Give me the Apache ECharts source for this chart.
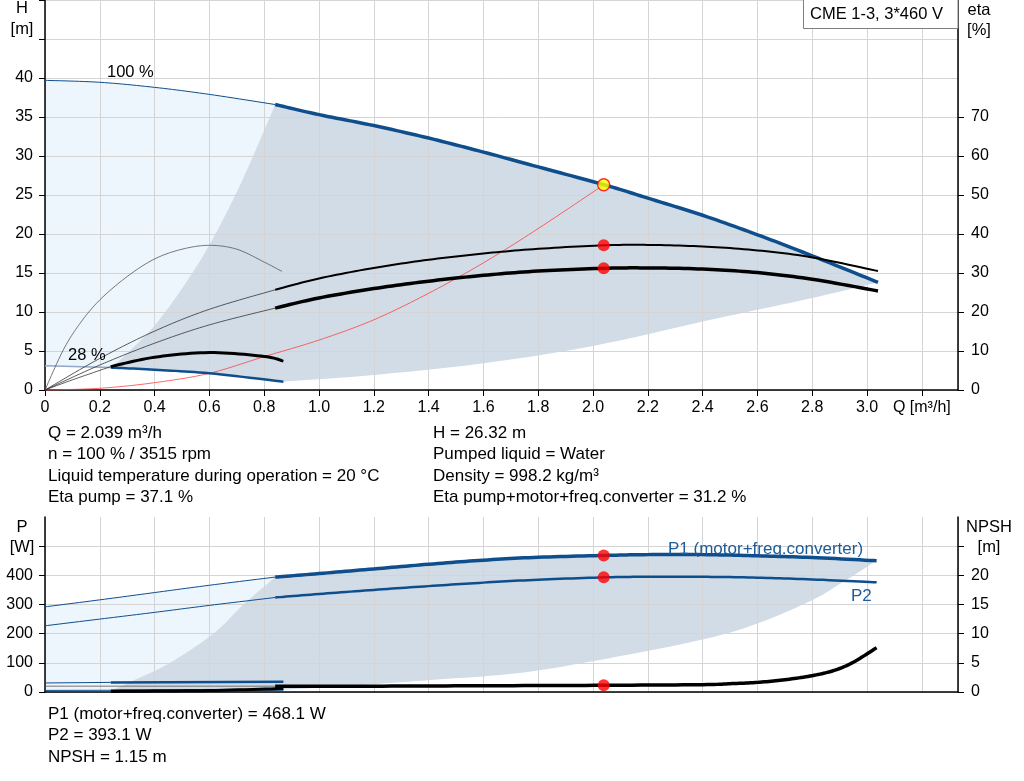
<!DOCTYPE html>
<html>
<head>
<meta charset="utf-8">
<script src="https://cdn.jsdelivr.net/npm/echarts@6/dist/echarts.min.js"></script>
<style>html,body{margin:0;padding:0;background:#fff;}#c{width:1024px;height:781px;}</style>
</head>
<body>
<div id="c"></div>
<script>
// ---------- data ----------
// Top chart: head H [m] vs flow Q [m3/h]
const h100Thin  = [[0,39.7],[0.2,39.45],[0.4,38.8],[0.6,37.9],[0.84,36.6]];
const h100Thick = [[0.84,36.6],[1.0,35.3],[1.2,33.9],[1.4,32.3],[1.6,30.5],[1.8,28.6],[2.04,26.32],[2.2,24.6],[2.4,22.4],[2.6,19.9],[2.8,17.2],[3.04,13.8]];
const h28Thin   = [[0,3.12],[0.24,2.88]];
const h28Thick  = [[0.24,2.88],[0.4,2.6],[0.6,2.14],[0.87,1.07]];
// efficiency curves [%]
const etaPumpThin   = [[0,0],[0.2,8.1],[0.4,15.1],[0.6,20.7],[0.84,25.7]];
const etaPumpThick  = [[0.84,25.7],[1.0,28.6],[1.2,31.3],[1.4,33.4],[1.6,35.0],[1.8,36.2],[2.04,37.1],[2.2,37.2],[2.4,36.8],[2.6,35.8],[2.8,34.0],[3.04,30.5]];
const etaTotThin    = [[0,0],[0.2,6.4],[0.4,12.0],[0.6,16.7],[0.84,21.0]];
const etaTotThick   = [[0.84,21.0],[1.0,23.6],[1.2,26.0],[1.4,27.9],[1.6,29.4],[1.8,30.5],[2.04,31.2],[2.2,31.3],[2.4,31.0],[2.6,30.1],[2.8,28.4],[3.04,25.4]];
const eta28Pump     = [[0,0],[0.067,10.3],[0.128,17.1],[0.2,23.1],[0.3,29.1],[0.4,33.6],[0.5,36.1],[0.6,37.1],[0.7,36.1],[0.8,32.8],[0.865,30.4]];
const eta28TotThin  = [[0,0],[0.1,2.6],[0.24,6.0]];
const eta28TotThick = [[0.24,6.0],[0.4,8.4],[0.6,9.6],[0.8,8.6],[0.87,7.4]];
const systemCurve   = [[0,0],[0.2,0.22],[0.4,0.94],[0.6,2.14],[0.8,4.28],[1.0,6.4],[1.2,9.0],[1.4,12.4],[1.6,16.3],[1.8,20.7],[2.04,26.32]];
// operating area boundaries (top)
const areaLeftTop  = [[0.24,2.88],[0.3,4.7],[0.41,8.7],[0.53,14.6],[0.62,19.9],[0.72,26.9],[0.84,36.6]];
const areaLowerTop = [[0.87,1.07],[1.2,1.93],[1.6,3.42],[2.0,5.65],[2.43,9.0],[2.8,11.8],[3.04,13.8]];
// duty point
const dutyQ = 2.039, dutyH = 26.32, dutyEtaPump = 37.1, dutyEtaTot = 31.2;
// Bottom chart: power P [W] and NPSH [m]
const p1Thin  = [[0,292],[0.2,316],[0.4,341],[0.6,366],[0.84,394]];
const p1Thick = [[0.84,394],[1.0,406],[1.2,422],[1.4,438],[1.6,452],[1.8,462],[2.04,468.1],[2.2,471],[2.4,471],[2.6,467],[2.8,461],[3.035,450]];
const p2Thin  = [[0,227],[0.2,250],[0.4,273],[0.6,297],[0.84,324]];
const p2Thick = [[0.84,324],[1.0,336],[1.2,350],[1.4,363],[1.6,375],[1.8,385],[2.04,393.1],[2.2,395],[2.4,395],[2.6,392],[2.8,386],[3.035,376]];
const p1_28Thin  = [[0,31],[0.24,33]];
const p1_28Thick = [[0.24,33],[0.87,35]];
const p2_28Thin  = [[0,5.5],[0.24,6]];
const p2_28Thick = [[0.24,6],[0.87,8]];
const npshThin   = [[0,1.0],[0.84,1.0]];
const npshThick  = [[0.84,0.97],[1.2,1.0],[1.6,1.07],[2.04,1.15],[2.4,1.26],[2.5,1.42],[2.6,1.65],[2.7,2.1],[2.8,2.8],[2.88,3.7],[2.95,5.1],[3.035,7.6]];
const npsh28     = [[0.24,0.1],[0.6,0.25],[0.87,0.6]];
const areaLeftBot  = [[0.24,5],[0.347,50],[0.456,100],[0.614,200],[0.724,300],[0.84,394]];
const areaLowerBot = [[0.87,8],[1.17,25],[1.42,42],[1.73,65],[2.03,111],[2.4,180],[2.6,235],[2.8,315],[2.9,370],[3.035,450]];
const dutyP1 = 468.1, dutyP2 = 393.1, dutyNpsh = 1.15;

const infoLeft  = ['Q = 2.039 m³/h','n = 100 % / 3515 rpm','Liquid temperature during operation = 20 °C','Eta pump = 37.1 %'];
const infoRight = ['H = 26.32 m','Pumped liquid = Water','Density = 998.2 kg/m³','Eta pump+motor+freq.converter = 31.2 %'];
const infoBottom = ['P1 (motor+freq.converter) = 468.1 W','P2 = 393.1 W','NPSH = 1.15 m'];

// ---------- chart ----------
const FONT = 'Liberation Sans, Arial, sans-serif';
const BLUE = '#0f4e8c';
const LIGHT = '#edf5fd';
const GREY = '#d1dce7';
const GRID = '#d4d4d4';
const XMAX = 3.332;

function rev(a){ return a.slice().reverse(); }
// Catmull-Rom through pixel points (rendering only)
function spline(p){
  if (p.length < 3) return p.slice();
  const out = [], n = 12;
  for (let i = 0; i < p.length - 1; i++){
    const p0 = p[Math.max(i-1,0)], p1 = p[i], p2 = p[i+1], p3 = p[Math.min(i+2,p.length-1)];
    for (let k = 0; k < n; k++){
      const t = k/n, t2 = t*t, t3 = t2*t;
      out.push([0,1].map(function(j){
        return 0.5*((2*p1[j]) + (-p0[j]+p2[j])*t + (2*p0[j]-5*p1[j]+4*p2[j]-p3[j])*t2 + (-p0[j]+3*p1[j]-3*p2[j]+p3[j])*t3);
      }));
    }
  }
  out.push(p[p.length-1]);
  return out;
}
function poly(segments, color, xi, yi){
  const all = [].concat.apply([], segments);
  return {type:'custom', xAxisIndex:xi, yAxisIndex:yi, z:-1, silent:true, data:all, encode:{x:0,y:1},
    renderItem:function(params, api){
      if (params.dataIndex !== 0) return null;
      let pts = [];
      segments.forEach(function(seg){ pts = pts.concat(spline(seg.map(function(d){ return api.coord(d); }))); });
      return {type:'polygon', shape:{points: pts}, style:{fill:color}};
    }};
}
function line(data, xi, yi, color, width){
  return {type:'custom', xAxisIndex:xi, yAxisIndex:yi, z:3, silent:true, data:data, encode:{x:0,y:1},
    renderItem:function(params, api){
      if (params.dataIndex !== 0) return null;
      const pts = spline(data.map(function(d){ return api.coord(d); }));
      return {type:'polyline', shape:{points: pts}, style:{stroke:color, lineWidth:width, fill:null, lineJoin:'round'}};
    }};
}
function dots(data, xi, yi, fill, border){
  return {type:'scatter', xAxisIndex:xi, yAxisIndex:yi, data:data, symbolSize:12, silent:true, z:10,
    itemStyle:{color:fill, borderColor:border||fill, borderWidth:border?1.5:0}};
}

const axisCommon = {
  axisLine:{show:true, lineStyle:{color:'#000', width:1.5}},
  axisTick:{show:true, length:6, lineStyle:{color:'#000'}},
  axisLabel:{color:'#000', fontSize:16, fontFamily:FONT},
};
function xfmt(v){
  if (Math.abs(v-3.2) < 1e-6) return 'Q [m³/h]';
  if (v > 3.1) return '';
  return v === 0 ? '0' : v.toFixed(1);
}

const texts = [];
function txt(s, x, y, opt){
  texts.push({type:'text', x:x, y:y, z:50, style:Object.assign({text:s, fontSize:17, fontFamily:FONT, fill:'#000', verticalAlign:'middle', align:'left'}, opt||{})});
}
infoLeft.forEach(function(s,i){ txt(s, 48, 433 + i*21.6); });
infoRight.forEach(function(s,i){ txt(s, 433, 433 + i*21.6); });
infoBottom.forEach(function(s,i){ txt(s, 48, 714 + i*21.6); });
txt('H', 22, 8, {align:'center', fontSize:16.5}); txt('[m]', 22, 29, {align:'center', fontSize:16.5});
txt('eta', 979, 10, {align:'center', fontSize:16.5}); txt('[%]', 979, 30, {align:'center', fontSize:16.5});
txt('P', 22, 527, {align:'center', fontSize:16.5}); txt('[W]', 22, 547, {align:'center', fontSize:16.5});
txt('NPSH', 989, 527, {align:'center', fontSize:16.5}); txt('[m]', 989, 547, {align:'center', fontSize:16.5});
txt('100 %', 107, 72, {fontSize:16.5}); txt('28 %', 68, 355, {fontSize:16.5});
txt('P1 (motor+freq.converter)', 668, 549, {fill:'#1b5c9c'});
txt('P2', 851, 596, {fill:'#1b5c9c'});

const chart = echarts.init(document.getElementById('c'), null, {renderer:'canvas'});
chart.setOption({
  animation:false,
  backgroundColor:'#fff',
  grid:[{left:45, right:66, top:0, height:390}, {left:45, right:66, top:517, height:175}],
  xAxis:[
    Object.assign({}, axisCommon, {type:'value', gridIndex:0, min:0, max:XMAX, interval:0.2,
      axisLabel:Object.assign({}, axisCommon.axisLabel, {formatter:xfmt, margin:10, showMaxLabel:false}),
      splitLine:{show:true, lineStyle:{color:GRID, width:1}}}),
    Object.assign({}, axisCommon, {type:'value', gridIndex:1, min:0, max:XMAX, interval:0.2,
      axisTick:{show:false}, axisLabel:{show:false},
      splitLine:{show:true, lineStyle:{color:GRID, width:1}}})
  ],
  yAxis:[
    Object.assign({}, axisCommon, {type:'value', gridIndex:0, min:0, max:50, interval:5, position:'left',
      axisLabel:Object.assign({}, axisCommon.axisLabel, {margin:12, formatter:function(v){return v<=40?String(v):'';}}),
      splitLine:{show:true, lineStyle:{color:GRID, width:1}}}),
    Object.assign({}, axisCommon, {type:'value', gridIndex:0, min:0, max:100, interval:10, position:'right',
      axisLabel:Object.assign({}, axisCommon.axisLabel, {margin:13, formatter:function(v){return v<=70?String(v):'';}}),
      axisTick:{show:true, length:6, lineStyle:{color:'#000'}, customValues:[0,10,20,30,40,50,60,70]},
      splitLine:{show:false}}),
    Object.assign({}, axisCommon, {type:'value', gridIndex:1, min:0, max:600, interval:100, position:'left',
      axisLabel:Object.assign({}, axisCommon.axisLabel, {margin:12, formatter:function(v){return v<=400?String(v):'';}}),
      axisTick:{show:true, length:6, lineStyle:{color:'#000'}, customValues:[0,100,200,300,400,500]},
      splitLine:{show:true, lineStyle:{color:GRID, width:1}}}),
    Object.assign({}, axisCommon, {type:'value', gridIndex:1, min:0, max:30, interval:5, position:'right',
      axisLabel:Object.assign({}, axisCommon.axisLabel, {margin:13, formatter:function(v){return v<=20?String(v):'';}}),
      axisTick:{show:true, length:6, lineStyle:{color:'#000'}, customValues:[0,5,10,15,20,25]},
      splitLine:{show:false}})
  ],
  series:[
    poly([h100Thin, rev(areaLeftTop), rev(h28Thin)], LIGHT, 0, 0),
    poly([areaLeftTop, h100Thick, rev(areaLowerTop), rev(h28Thick).slice(1)], GREY, 0, 0),
    line(systemCurve, 0, 0, '#ff4040', 0.8),
    line(h100Thin, 0, 0, BLUE, 1),
    line(h100Thick, 0, 0, BLUE, 3.5),
    line(h28Thin, 0, 0, '#8fa8c6', 1.5),
    line(h28Thick, 0, 0, BLUE, 2.5),
    line(eta28Pump, 0, 1, '#555', 0.8),
    line(etaPumpThin, 0, 1, '#333', 0.8),
    line(etaPumpThick, 0, 1, '#000', 2),
    line(etaTotThin, 0, 1, '#333', 0.8),
    line(etaTotThick, 0, 1, '#000', 3.5),
    line(eta28TotThin, 0, 1, '#333', 0.8),
    line(eta28TotThick, 0, 1, '#000', 3),
    dots([[dutyQ, dutyEtaPump],[dutyQ, dutyEtaTot]], 0, 1, '#ff0000'),
    dots([[dutyQ, dutyH]], 0, 0, '#ffff00', '#ff0000'),

    poly([p1Thin, rev(areaLeftBot), [[0.24,0],[0,0]]], LIGHT, 1, 2),
    poly([areaLeftBot, p1Thick, rev(areaLowerBot), [[0.24,0]]], GREY, 1, 2),
    line(p1Thin, 1, 2, BLUE, 1),
    line(p1Thick, 1, 2, BLUE, 3.5),
    line(p2Thin, 1, 2, BLUE, 1),
    line(p2Thick, 1, 2, BLUE, 2.5),
    line(p1_28Thin, 1, 2, BLUE, 1),
    line(p1_28Thick, 1, 2, BLUE, 2.5),
    line(p2_28Thin, 1, 2, BLUE, 1),
    line(p2_28Thick, 1, 2, BLUE, 2),
    line(npshThin, 1, 3, '#555', 0.8),
    line(npshThick, 1, 3, '#000', 3.5),
    line(npsh28, 1, 3, '#000', 3),
    dots([[dutyQ, dutyP1],[dutyQ, dutyP2]], 1, 2, '#ff0000'),
    dots([[dutyQ, dutyNpsh]], 1, 3, '#ff0000')
  ],
  graphic: [
    {type:'rect', z:40, shape:{x:803.5, y:-1, width:154.5, height:29.5}, style:{fill:'#fff', stroke:'#7f7f7f', lineWidth:1}},
    {type:'text', z:41, x:810, y:14.5, style:{text:'CME 1-3, 3*460 V', fontSize:16.5, fontFamily:FONT, fill:'#000', verticalAlign:'middle'}}
  ].concat(texts)
});
</script>
</body>
</html>
